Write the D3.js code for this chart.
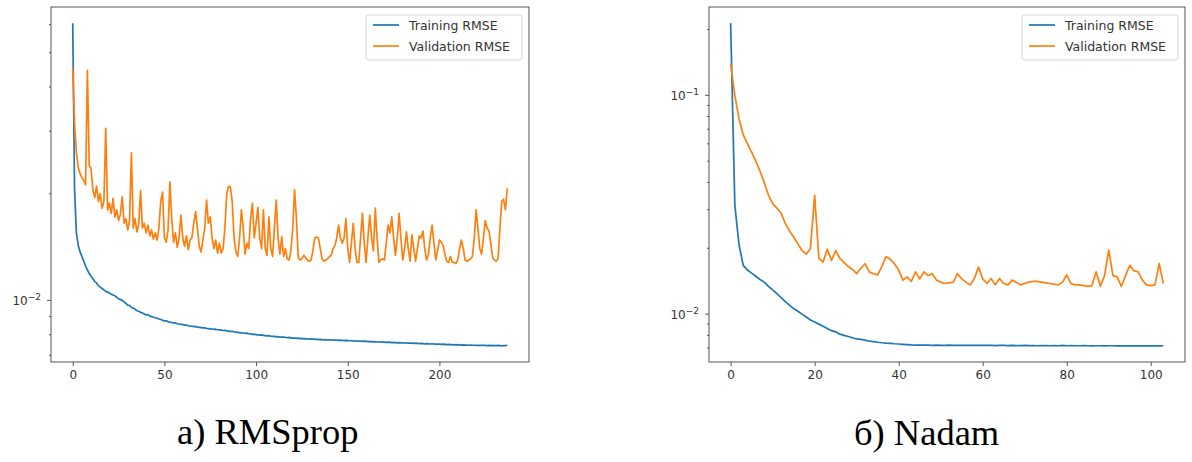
<!DOCTYPE html>
<meta charset="utf-8">
<script src="https://d3js.org/d3.v7.min.js"></script>
<body style="margin:0;background:#fff">
<svg width="1192" height="462"></svg>
<script>
  // RMSprop run (epochs 0..237)
  var trainRmsprop = [
    .0606,.0205,.0155,.0143,.0137,.0133,.0129,.0125,.0122,.0119,
    .0117,.0115,.0113,.0112,.0110,.0109,.0108,.0107,.0106,.01055,
    .0105,.0104,.01035,.0103,.0102,.0101,.01005,.0100,.00990,.00980,
    .00970,.00968,.00955,.00950,.00945,.00935,.00932,.00925,.00922,.00915,
    .00910,.00912,.00903,.00900,.00896,.00893,.00890,.00886,.00884,.00878,
    .00875,.00876,.00870,.00868,.00866,.00863,.00864,.00859,.00857,.00856,
    .00855,.00851,.00852,.00848,.00846,.00845,.00843,.00844,.00840,.00839,
    .00838,.00836,.00837,.00833,.00832,.00831,.00830,.00828,.00829,.00826,
    .00825,.00824,.00822,.00823,.00820,.00819,.00817,.00818,.00815,.00813,
    .00812,.00811,.00810,.00809,.00807,.00808,.00805,.00804,.00802,.00803,
    .00800,.00799,.00798,.00799,.00796,.00795,.00794,.00795,.00792,.00791,
    .00791,.00789,.00790,.00788,.00787,.00788,.00786,.00785,.00786,.00784,
    .00782,.00783,.00781,.00782,.00780,.00781,.00779,.00780,.00778,.00779,
    .00777,.00778,.00776,.00777,.00775,.00776,.00775,.00774,.00775,.00773,
    .00774,.00773,.00772,.00773,.00772,.00771,.00772,.00771,.00770,.00771,
    .00770,.00769,.00770,.00768,.00769,.00768,.00767,.00768,.00766,.00767,
    .00766,.00765,.00766,.00764,.00765,.00764,.00763,.00764,.00762,.00763,
    .00762,.00761,.00762,.00761,.00760,.00761,.00760,.00759,.00760,.00759,
    .00758,.00759,.00758,.00757,.00758,.00757,.00756,.00757,.00756,.00755,
    .00756,.00755,.00754,.00755,.00754,.00753,.00754,.00753,.00752,.00753,
    .00752,.00751,.00752,.00751,.00750,.00751,.00750,.00750,.00749,.00750,
    .00749,.00749,.00748,.00749,.00748,.00748,.00747,.00748,.00747,.00747,
    .00746,.00747,.00746,.00746,.00747,.00746,.00745,.00746,.00745,.00746,
    .00745,.00745,.00746,.00745,.00744,.00745,.00745,.00746
  ];
  var valRmsprop = [
    .0455,.0316,.0262,.0237,.0228,.0222,.0218,.0212,.0446,.0240,
    .0236,.0205,.0195,.0210,.0190,.0200,.0182,.0190,.0306,.0180,
    .0188,.0176,.0194,.0172,.0180,.0168,.0175,.0196,.0165,.0170,
    .0158,.0168,.0261,.0160,.0170,.0156,.0164,.0204,.0160,.0165,
    .0155,.0163,.0152,.0158,.0149,.0155,.0148,.0160,.0190,.0202,
    .0150,.0146,.0158,.0216,.0170,.0146,.0155,.0141,.0150,.0174,
    .0150,.0142,.0152,.0139,.0148,.0150,.0165,.0178,.0160,.0142,
    .0137,.0148,.0160,.0192,.0165,.0172,.0150,.0140,.0148,.0136,
    .0145,.0136,.0140,.0160,.0200,.0210,.0209,.0190,.0150,.0137,
    .0133,.0150,.0180,.0160,.0135,.0145,.0140,.0170,.0188,.0150,
    .0165,.0183,.0150,.0140,.0180,.0140,.0134,.0172,.0140,.0133,
    .0160,.0192,.0150,.0135,.0151,.0133,.0140,.0131,.0130,.0138,
    .0160,.0205,.0170,.0132,.0130,.0131,.0134,.0132,.0130,.0129,
    .0130,.0138,.0150,.0151,.0150,.0140,.0131,.0129,.0130,.0131,
    .0133,.0134,.0140,.0143,.0150,.0163,.0150,.0145,.0150,.0170,
    .0140,.0128,.0145,.0165,.0140,.0128,.0128,.0150,.0176,.0145,
    .0128,.0150,.0174,.0150,.0138,.0182,.0150,.0128,.0130,.0131,
    .0130,.0145,.0163,.0155,.0172,.0150,.0134,.0150,.0176,.0150,
    .0130,.0140,.0156,.0140,.0129,.0153,.0140,.0129,.0140,.0152,
    .0150,.0157,.0140,.0130,.0135,.0150,.0163,.0145,.0130,.0138,
    .0148,.0146,.0143,.0135,.0129,.0128,.0133,.0128,.0128,.0127,
    .0130,.0140,.0148,.0140,.0130,.0129,.0130,.0131,.0133,.0150,
    .0180,.0160,.0140,.0135,.0150,.0168,.0160,.0157,.0145,.0132,
    .0130,.0129,.0131,.0160,.0190,.0193,.0180,.0207
  ];

  // Nadam run (epochs 0..103)
  var trainNadam = [
    .2138,.0315,.0207,.0167,.0159,.0154,.0149,.0144,.0140,.0134,
    .0129,.0124,.0119,.0114,.0110,.0106,.0103,.0100,.0097,.0094,
    .0092,.0090,.0088,.0086,.0084,.0083,.0081,.0080,.0079,.0078,
    .0077,.00766,.0076,.00752,.00748,.00744,.0074,.00737,.00735,.00732,
    .0073,.00728,.00726,.00723,.00722,.00721,.00722,.00721,.00720,.00721,
    .00720,.00720,.00721,.00720,.00719,.00720,.00720,.00719,.00720,.00719,
    .00719,.00720,.00719,.00718,.00719,.00719,.00718,.00719,.00718,.00718,
    .00719,.00718,.00718,.00717,.00718,.00718,.00717,.00718,.00717,.00719,
    .00717,.00718,.00717,.00717,.00718,.00717,.00716,.00717,.00717,.00716,
    .00717,.00717,.00716,.00717,.00716,.00717,.00716,.00716,.00717,.00716,
    .00716,.00717,.00716,.00717
  ];
  var valNadam = [
    .1395,.1000,.0780,.0660,.0600,.0550,.0500,.0450,.0400,.0350,
    .0320,.0305,.0290,.0260,.0240,.0225,.0210,.0195,.0188,.0200,
    .0349,.0180,.0173,.0198,.0176,.0195,.0180,.0172,.0165,.0160,
    .0153,.0162,.0170,.0156,.0153,.0151,.0165,.0183,.0178,.0170,
    .0159,.0143,.0148,.0141,.0156,.0145,.0156,.0150,.0153,.0143,
    .0140,.0138,.0139,.0140,.0153,.0145,.0140,.0136,.0145,.0164,
    .0145,.0138,.01455,.0136,.01455,.0138,.0136,.0143,.0140,.0136,
    .0138,.0140,.0141,.0141,.0140,.0139,.0138,.0137,.0136,.0140,
    .0151,.0138,.0136,.0136,.0135,.0134,.0135,.0156,.0134,.0150,
    .0196,.0150,.0148,.0134,.0150,.0167,.0158,.0156,.0143,.0136,
    .0135,.0136,.0170,.0138
  ];

  var seriesNames = ['Training RMSE', 'Validation RMSE'];
  var seriesColors = ['#1f77b4', '#ff7f0e'];
  var xTicksRmsprop = [0, 50, 100, 150, 200];
  var xTicksNadam = [0, 20, 40, 60, 80, 100];
  var captions = ['a) RMSprop', 'б) Nadam'];

  var svg = d3.select('svg');

  var panels = [
    {train: trainRmsprop, val: valRmsprop, xTicks: xTicksRmsprop, caption: captions[0],
     left: 51, right: 529, top: 7, bottom: 362, capX: 177, capY: 444},
    {train: trainNadam, val: valNadam, xTicks: xTicksNadam, caption: captions[1],
     left: 709, right: 1185, top: 7, bottom: 362, capX: 854, capY: 445}
  ];

  function superscript(n){
    return String(n).replace('-', '\u2212');
  }

  function drawPanel(p){
    var n = p.train.length - 1;
    var all = p.train.concat(p.val);
    var lo = Math.log10(d3.min(all)), hi = Math.log10(d3.max(all));
    var m = (hi - lo) * 0.05;

    var x = d3.scaleLinear().domain([-n * 0.05, n * 1.05]).range([p.left, p.right]);
    var y = d3.scaleLog().domain([Math.pow(10, lo - m), Math.pow(10, hi + m)]).range([p.bottom, p.top]);

    var g = svg.append('g');

    /* ----------- lines ----------- */
    var line = d3.line()
      .x(function(d, i){ return x(i); })
      .y(function(d){ return y(d); });

    [p.train, p.val].forEach(function(s, k){
      g.append('path')
        .datum(s)
        .attr('fill', 'none')
        .attr('stroke', seriesColors[k])
        .attr('stroke-width', 1.7)
        .attr('stroke-linejoin', 'round')
        .attr('d', line);
    });

    /* ----------- frame ----------- */
    g.append('rect')
      .attr('x', p.left).attr('y', p.top)
      .attr('width', p.right - p.left).attr('height', p.bottom - p.top)
      .attr('fill', 'none').attr('stroke', '#555').attr('stroke-width', 1);

    /* ----------- x axis ----------- */
    var xAxis = d3.axisBottom(x).tickValues(p.xTicks).tickSize(4).tickPadding(4);
    var gx = g.append('g').attr('transform', 'translate(0,' + p.bottom + ')').call(xAxis);
    gx.select('.domain').remove();
    gx.selectAll('line').attr('stroke', '#555');
    gx.selectAll('text').attr('fill', '#333').style('font', '12px "DejaVu Sans"');

    /* ----------- y axis (log) ----------- */
    var d0 = y.domain()[0], d1 = y.domain()[1];
    var major = [], minor = [];
    for (var e = Math.floor(Math.log10(d0)); e <= Math.ceil(Math.log10(d1)); e++){
      for (var k = 1; k < 10; k++){
        var v = k * Math.pow(10, e);
        if (v < d0 || v > d1) continue;
        (k === 1 ? major : minor).push({v: v, e: e});
      }
    }

    g.selectAll('line.minor').data(minor).enter().append('line')
      .attr('x1', p.left - 2).attr('x2', p.left)
      .attr('y1', function(d){ return y(d.v); }).attr('y2', function(d){ return y(d.v); })
      .attr('stroke', '#555');

    g.selectAll('line.major').data(major).enter().append('line')
      .attr('x1', p.left - 4).attr('x2', p.left)
      .attr('y1', function(d){ return y(d.v); }).attr('y2', function(d){ return y(d.v); })
      .attr('stroke', '#555');

    var lab = g.selectAll('text.ylab').data(major).enter().append('text')
      .attr('x', p.left - 10)
      .attr('y', function(d){ return y(d.v) + 5; })
      .attr('text-anchor', 'end')
      .attr('fill', '#333')
      .style('font', '12px "DejaVu Sans"');
    lab.append('tspan').text('10');
    lab.append('tspan').attr('dy', -5).style('font-size', '9px')
      .text(function(d){ return superscript(d.e); });

    /* ----------- legend ----------- */
    var lw = 156, lh = 45;
    var lx = p.right - 7 - lw, ly = p.top + 8;
    var lg = g.append('g').attr('transform', 'translate(' + lx + ',' + ly + ')');
    lg.append('rect')
      .attr('width', lw).attr('height', lh).attr('rx', 3)
      .attr('fill', '#fff').attr('fill-opacity', 0.8)
      .attr('stroke', '#d6d6d6');
    seriesNames.forEach(function(name, i){
      var cy = 10 + i * 21;
      lg.append('line')
        .attr('x1', 7).attr('x2', 33).attr('y1', cy).attr('y2', cy)
        .attr('stroke', seriesColors[i]).attr('stroke-width', 1.7);
      lg.append('text')
        .attr('x', 43).attr('y', cy + 4.5)
        .attr('fill', '#333')
        .style('font', '12.5px "DejaVu Sans"')
        .text(name);
    });

    /* ----------- caption ----------- */
    svg.append('text')
      .attr('x', p.capX).attr('y', p.capY)
      .attr('fill', '#000')
      .attr('font-family', '"Liberation Serif", "Times New Roman", serif')
      .attr('font-size', 36.5)
      .text(p.caption);
  }

  panels.forEach(drawPanel);
</script>
</body>
